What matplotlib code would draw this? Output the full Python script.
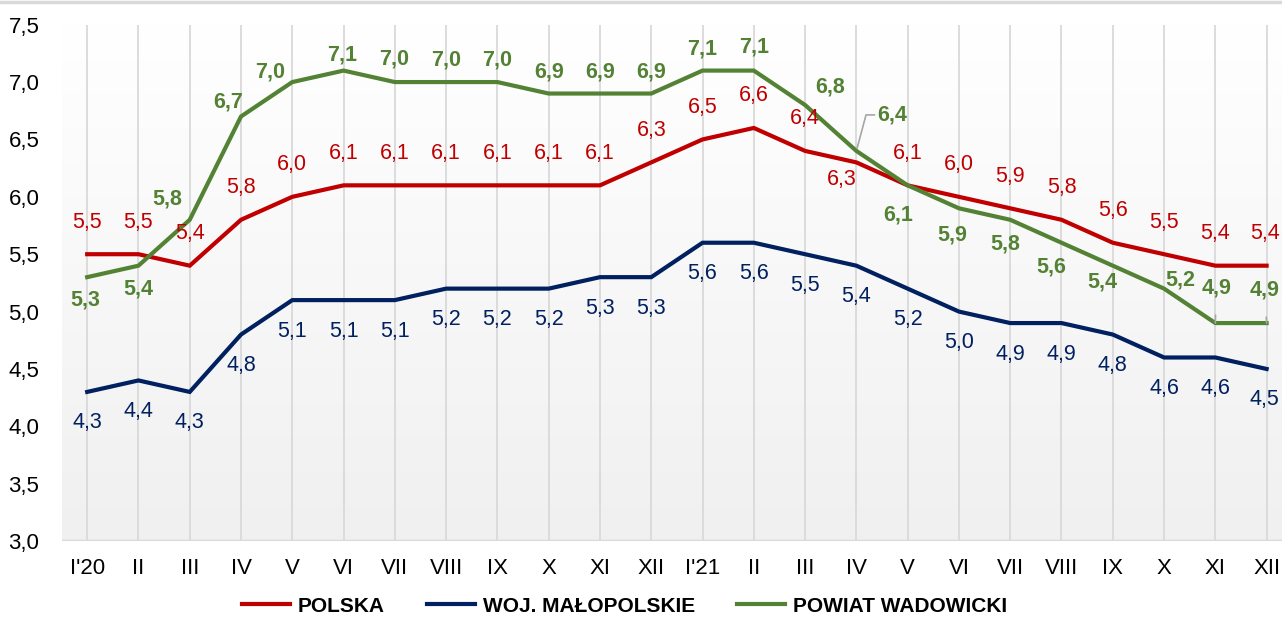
import numpy as np
import matplotlib.pyplot as plt
from matplotlib.colors import LinearSegmentedColormap

# data
months = ["I'20", "II", "III", "IV", "V", "VI", "VII", "VIII", "IX", "X", "XI", "XII",
          "I'21", "II", "III", "IV", "V", "VI", "VII", "VIII", "IX", "X", "XI", "XII"]
polska = [5.5, 5.5, 5.4, 5.8, 6.0, 6.1, 6.1, 6.1, 6.1, 6.1, 6.1, 6.3,
          6.5, 6.6, 6.4, 6.3, 6.1, 6.0, 5.9, 5.8, 5.6, 5.5, 5.4, 5.4]
malopolskie = [4.3, 4.4, 4.3, 4.8, 5.1, 5.1, 5.1, 5.2, 5.2, 5.2, 5.3, 5.3,
               5.6, 5.6, 5.5, 5.4, 5.2, 5.0, 4.9, 4.9, 4.8, 4.6, 4.6, 4.5]
wadowicki = [5.3, 5.4, 5.8, 6.7, 7.0, 7.1, 7.0, 7.0, 7.0, 6.9, 6.9, 6.9,
             7.1, 7.1, 6.8, 6.4, 6.1, 5.9, 5.8, 5.6, 5.4, 5.2, 4.9, 4.9]
yticks = [3.0, 3.5, 4.0, 4.5, 5.0, 5.5, 6.0, 6.5, 7.0, 7.5]

RED = "#C00000"
NAVY = "#002060"
GREEN = "#548235"
FONT = ["Liberation Sans", "DejaVu Sans"]

plt.rcParams["font.family"] = FONT

fig = plt.figure(figsize=(12.82, 6.17), dpi=100)
ax = fig.add_axes([0.048, 0.123, 0.952, 0.837])

# thin grey border line at the very top of the image
fig.add_artist(plt.Line2D([0, 1], [0.997, 0.997], color="#d9d9d9", lw=2.5))

x = np.arange(len(months))
ax.set_xlim(-0.5, 23.3)
ax.set_ylim(3.0, 7.5)

# background gradient (white at top, light grey at bottom)
grad = np.linspace(1, 0, 256).reshape(-1, 1)
cmap = LinearSegmentedColormap.from_list("bg", ["#f0f0f0", "#ffffff"])
ax.imshow(grad, extent=(-0.5, 23.3, 3.0, 7.5), aspect="auto", cmap=cmap,
          origin="upper", zorder=0, vmin=0, vmax=1)

for xi in x:
    ax.axvline(xi, color="#d9d9d9", lw=1.3, zorder=1)
ax.axhline(3.0, color="#d9d9d9", lw=2.5, zorder=1)

l1, = ax.plot(x, polska, color=RED, lw=3, zorder=3, solid_joinstyle="miter")
l2, = ax.plot(x, malopolskie, color=NAVY, lw=3, zorder=3, solid_joinstyle="miter")
l3, = ax.plot(x, wadowicki, color=GREEN, lw=3, zorder=4, solid_joinstyle="miter")

def fmt(v):
    return f"{v:.1f}".replace(".", ",")

# labels: offsets in pixels
for i, v in enumerate(polska):
    dx, dy = 0, 32
    if i == 15:
        dx, dy = -15, -17
    if i == 23:
        dx = -2
    ax.annotate(fmt(v), (i, v), xytext=(dx, dy), textcoords="offset pixels",
                ha="center", va="center", color=RED, fontsize=15.5, zorder=5)

for v, i in zip(malopolskie, x):
    dx = -2 if i == 23 else 0
    ax.annotate(fmt(v), (i, v), xytext=(dx, -31), textcoords="offset pixels",
                ha="center", va="center", color=NAVY, fontsize=15.5, zorder=5)

g_off = [(-2, -23), (0, -23), (-22, 21), (-13, 14), (-22, 10), (-1, 16),
         (-1, 23), (0, 22), (0, 22), (0, 22), (0, 22), (0, 22),
         (0, 22), (0, 24), (25, 18), (36, 36), (-9, -30), (-7, -27),
         (-5, -24), (-10, -24), (-10, -16), (16, 9), (1, 35), (-2, 33)]
for i, (v, (dx, dy)) in enumerate(zip(wadowicki, g_off)):
    arrow = None
    if i == 15:
        arrow = dict(arrowstyle="-", color="#a6a6a6", lw=1.2, shrinkA=0, shrinkB=2,
                     connectionstyle="angle,angleA=0,angleB=75,rad=0",
                     relpos=(0, 0.5))
    elif i in (22, 23):
        arrow = dict(arrowstyle="-", color="#a6a6a6", lw=1.2, shrinkA=10, shrinkB=0)
    ax.annotate(fmt(v), (i, v), xytext=(dx, dy), textcoords="offset pixels",
                ha="center", va="center", color=GREEN, fontsize=15.5,
                fontweight="bold", zorder=5, arrowprops=arrow)

ax.set_xticks(x)
ax.set_xticklabels(months)
ax.set_yticks(yticks)
ax.set_yticklabels([fmt(t) for t in yticks])
ax.tick_params(axis="both", length=0, labelsize=16, colors="black")
ax.tick_params(axis="x", pad=12)
ax.tick_params(axis="y", pad=16)
for s in ax.spines.values():
    s.set_visible(False)

fig.legend([l1, l2, l3], ["POLSKA", "WOJ. MAŁOPOLSKIE", "POWIAT WADOWICKI"],
           loc="lower center", bbox_to_anchor=(0.487, -0.028), ncol=3, frameon=False,
           handlelength=2.3, columnspacing=2.0, handletextpad=0.4,
           prop=dict(family=FONT, weight="bold", size=15))

fig.savefig("out.png", dpi=100)
